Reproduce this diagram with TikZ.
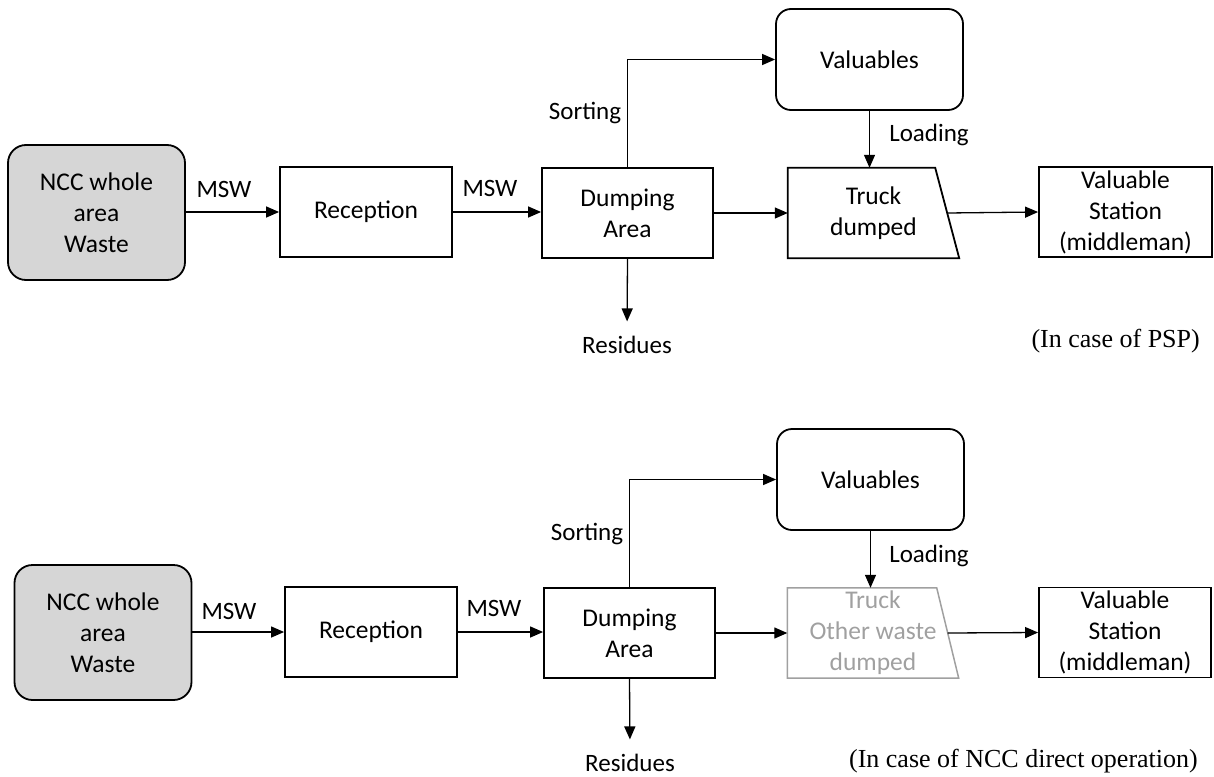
\documentclass[tikz,border=0pt]{standalone}
\usepackage{fontspec}
\setmainfont{Carlito}
\newfontfamily\capfont{Liberation Serif}
\usetikzlibrary{arrows.meta}
\definecolor{srcgray}{HTML}{D6D6D6}
\definecolor{fadegray}{HTML}{A0A0A0}
\begin{document}
\begin{tikzpicture}[x=1pt,y=-1pt,
  txt/.style={font=\fontsize{25.5}{31}\selectfont, align=center, inner sep=0pt},
  box/.style={txt, draw, line width=1.8pt, minimum height=90pt},
  srcbox/.style={box, fill=srcgray, rounded corners=18pt, minimum width=177pt, minimum height=135pt},
  valbox/.style={box, rounded corners=15pt, minimum width=187pt, minimum height=101pt},
  truckbox/.style={txt, minimum width=171pt, minimum height=90pt},
  trapline/.style={line width=1.8pt},
  arr/.style={line width=1.3pt, -{Triangle[length=13pt,width=11pt]}},
  lbl/.style={font=\fontsize{25}{28}\selectfont, inner sep=0pt},
  captxt/.style={font=\capfont\fontsize{26}{30}\selectfont, inner sep=0pt, anchor=base east}
]
\useasboundingbox (0,0) rectangle (1214,776);

% ---------- top diagram (PSP) ----------
\node[srcbox] (ncc1) at (96.5,212.5) {NCC whole\\area\\Waste};
\node[box, minimum width=172pt] (rec1) at (366,212) {Reception};
\node[box, minimum width=171pt] (dump1) at (627.5,213) {Dumping\\Area};
\node[valbox] (val1) at (869.5,59.5) {Valuables};
\node[truckbox] (truck1) at (873.5,213) {Truck\\dumped};
\draw[trapline] (truck1.north west) -- ([xshift=-24pt]truck1.north east)
   -- (truck1.south east) -- (truck1.south west) -- cycle;
\node[box, minimum width=173pt] (sta1) at (1125.5,212) {Valuable\\Station\\(middleman)};
\node[lbl, anchor=base] (res1) at (627,353) {Residues};

\node[lbl] (msw1a) at (224,189) {MSW};
\node[lbl] (msw1b) at (490,188) {MSW};
\node[lbl] (sort1) at (585,113) {Sorting};
\node[lbl] (load1) at (929,135) {Loading};
\node[captxt] (cap1) at (1200,347) {(In case of PSP)};

\draw[arr] (ncc1.east |- rec1.west) -- (rec1.west);
\draw[arr] (rec1.east) -- (rec1.east -| dump1.west);
\draw[arr] (dump1.north) |- (val1.west);
\draw[arr] (val1.south) -- (val1.south |- truck1.north);
\draw[arr] (dump1.east) -- (dump1.east -| truck1.west);
\draw[arr] ([xshift=-12pt]truck1.east) -- (sta1.west);
\draw[arr, shorten >=14pt] (dump1.south) -- (res1.north);

% ---------- bottom diagram (NCC direct operation) ----------
\node[srcbox] (ncc2) at (103,632.5) {NCC whole\\area\\Waste};
\node[box, minimum width=172pt] (rec2) at (371,632) {Reception};
\node[box, minimum width=171pt] (dump2) at (629.5,633) {Dumping\\Area};
\node[valbox] (val2) at (870.5,479.5) {Valuables};
\node[truckbox, text=fadegray] (truck2) at (873,633) {Truck\\Other waste\\dumped};
\draw[trapline, draw=fadegray, line width=1.5pt] (truck2.north west) -- ([xshift=-22pt]truck2.north east)
   -- (truck2.south east) -- (truck2.south west) -- cycle;
\node[box, minimum width=172pt] (sta2) at (1125,632.5) {Valuable\\Station\\(middleman)};
\node[lbl, anchor=base] (res2) at (630,771) {Residues};

\node[lbl] (msw2a) at (229,611) {MSW};
\node[lbl] (msw2b) at (494,608) {MSW};
\node[lbl] (sort2) at (587,534) {Sorting};
\node[lbl] (load2) at (929,556) {Loading};
\node[captxt] (cap2) at (1198,767) {(In case of NCC direct operation)};

\draw[arr] (ncc2.east |- rec2.west) -- (rec2.west);
\draw[arr] (rec2.east) -- (rec2.east -| dump2.west);
\draw[arr] (dump2.north) |- (val2.west);
\draw[arr] (val2.south) -- (val2.south |- truck2.north);
\draw[arr] (dump2.east) -- (dump2.east -| truck2.west);
\draw[arr] ([xshift=-11pt]truck2.east) -- (sta2.west);
\draw[arr, shorten >=14pt] (dump2.south) -- (res2.north);
\end{tikzpicture}
\end{document}
